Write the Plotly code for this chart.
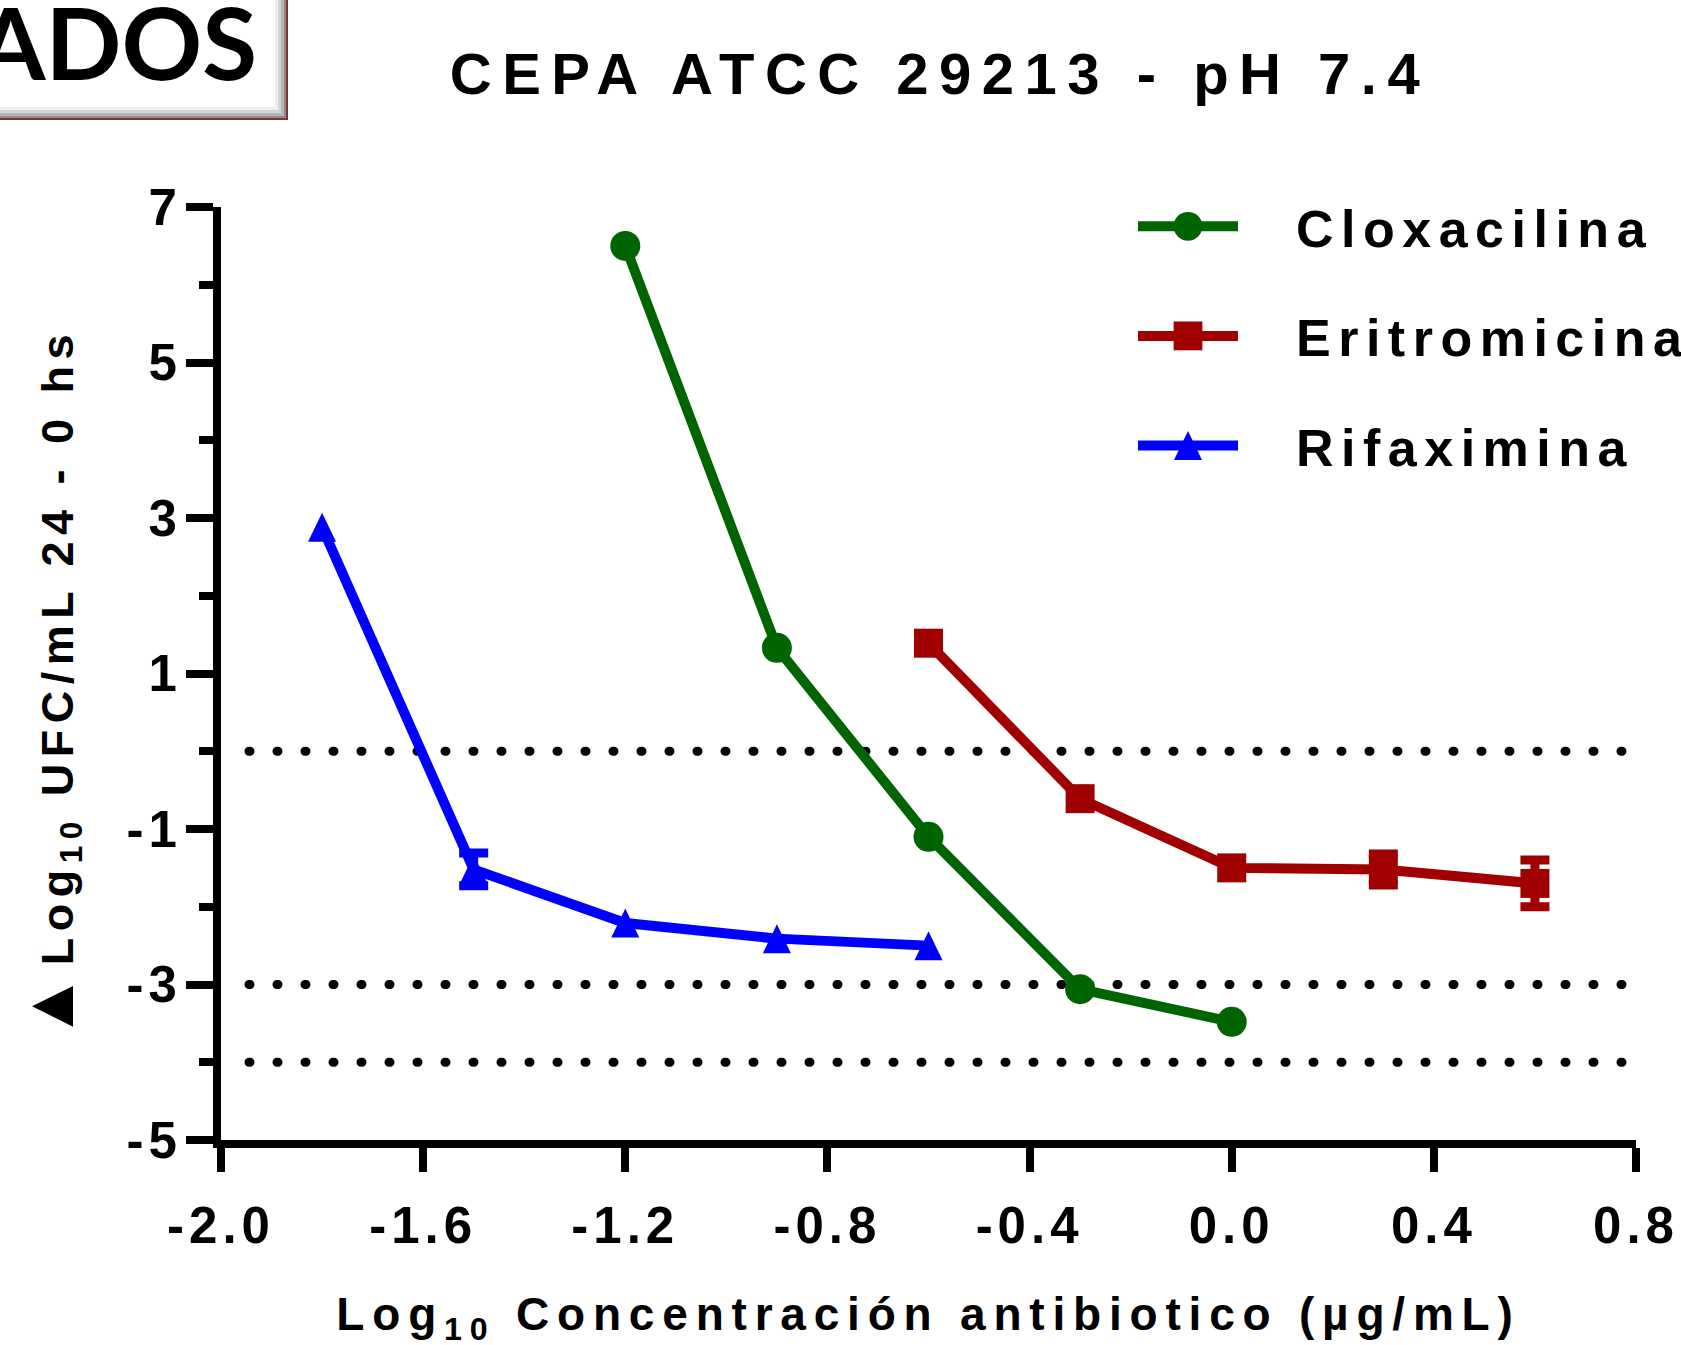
import plotly.graph_objects as go

# ---------------- data ----------------
title_text = "CEPA ATCC 29213 - pH 7.4"
header_text = "ADOS"
x_title = "Log<sub>10</sub> Concentración antibiotico (µg/mL)"
y_title = "<span style='font-size:70px'>▲</span>Log<sub>10</sub> UFC/mL 24 - 0 hs"

x_tick_vals = [-2.0, -1.6, -1.2, -0.8, -0.4, 0.0, 0.4, 0.8]
x_tick_text = ["-2.0", "-1.6", "-1.2", "-0.8", "-0.4", "0.0", "0.4", "0.8"]
y_tick_vals = [7, 5, 3, 1, -1, -3, -5]
y_tick_text = ["7", "5", "3", "1", "-1", "-3", "-5"]

ref_levels = [0, -3, -4]

series_names = ["Cloxacilina", "Eritromicina", "Rifaximina"]

clox_x = [-1.2, -0.9, -0.6, -0.3, 0.0]
clox_y = [6.50, 1.33, -1.10, -3.06, -3.48]
clox_err = [None, None, None, None, None]

eri_x = [-0.6, -0.3, 0.0, 0.3, 0.6]
eri_y = [1.39, -0.61, -1.50, -1.52, -1.70]
eri_err = [None, None, None, 0.2, 0.3]

rif_x = [-1.8, -1.5, -1.2, -0.9, -0.6]
rif_y = [2.88, -1.52, -2.21, -2.41, -2.50]
rif_err = [None, 0.21, None, None, None]

# ---------------- layout geometry ----------------
W, H = 1681, 1345
ML, MR, MT, MB = 221, 45, 207, 205
PW = W - ML - MR
PH = H - MT - MB


def pxx(px):
    return (px - ML) / PW


def pxy(py):
    return (H - MB - py) / PH


FONT = "Liberation Sans, Arial, sans-serif"
colors = ["#006400", "#a00000", "#0000ff"]
symbols = ["circle", "square", "triangle-up"]
msizes = [30, 29, 26]

fig = go.Figure()

series = [(clox_x, clox_y, clox_err), (eri_x, eri_y, eri_err), (rif_x, rif_y, rif_err)]
for i, (xs, ys, es) in enumerate(series):
    fig.add_trace(go.Scatter(
        x=xs, y=ys, name=series_names[i], mode="lines+markers",
        legendgroup="g%d" % i,
        line=dict(color=colors[i], width=10),
        marker=dict(symbol=symbols[i], size=msizes[i], color=colors[i]),
        cliponaxis=False,
    ))
    idx = [k for k, e in enumerate(es) if e]
    if idx:
        fig.add_trace(go.Scatter(
            x=[xs[k] for k in idx], y=[ys[k] for k in idx], mode="markers",
            showlegend=False, legendgroup="g%d" % i, hoverinfo="skip",
            marker=dict(size=1, color="rgba(0,0,0,0)"),
            error_y=dict(type="data", array=[es[k] for k in idx], visible=True,
                         color=colors[i], thickness=9, width=14.5),
            cliponaxis=False,
        ))

shapes = []
# dotted reference lines
for lv in ref_levels:
    shapes.append(dict(type="line", xref="paper", yref="y", x0=pxx(249), x1=1.0,
                       y0=lv, y1=lv, layer="below",
                       line=dict(color="black", width=9, dash="1px,27px")))

# "ADOS" header box with bevel shadow
box_layers = [(288, 120, "#7a3434"), (286, 118, "#8c8c8c"), (284, 116, "#b4b4b4"),
              (281, 113, "#d6d6d6"), (278, 110, "#eeeeee"), (275, 107, "#ffffff")]
for rx, by, col in box_layers:
    shapes.append(dict(type="rect", xref="paper", yref="paper",
                       x0=pxx(-20), x1=pxx(rx), y0=pxy(by), y1=pxy(-20),
                       fillcolor=col, line=dict(width=0), layer="below"))

fig.update_layout(
    template="none",
    width=W, height=H,
    margin=dict(l=ML, r=MR, t=MT, b=MB, pad=0, autoexpand=False),
    paper_bgcolor="white", plot_bgcolor="white",
    font=dict(family=FONT, color="black", weight="bold"),
    title=dict(text=title_text, x=940 / W, xref="container", xanchor="center",
               y=1 - 74 / H, yref="container", yanchor="middle",
               font=dict(size=58, family=FONT, color="black", weight="bold")),
    xaxis=dict(range=[-2.0, 0.8], tickmode="array", tickvals=x_tick_vals, ticktext=x_tick_text,
               automargin=False,
               showgrid=False, zeroline=False, showline=True, linewidth=8, linecolor="black",
               ticks="outside", ticklen=24, tickwidth=8, tickcolor="black",
               ticklabelstandoff=10,
               tickfont=dict(size=51, family=FONT, weight="bold", color="black"),
               title=dict(text=x_title, standoff=58,
                          font=dict(size=46, family=FONT, weight="bold", color="black"))),
    yaxis=dict(range=[-5, 7], tickmode="array", tickvals=y_tick_vals, ticktext=y_tick_text,
               automargin=False,
               showgrid=False, zeroline=False, showline=True, linewidth=8, linecolor="black",
               ticks="outside", ticklen=27, tickwidth=8, tickcolor="black",
               ticklabelstandoff=-6,
               minor=dict(tickmode="linear", tick0=-5, dtick=1, ticks="outside",
                          ticklen=14, tickwidth=8, tickcolor="black"),
               tickfont=dict(size=51, family=FONT, weight="bold", color="black"),
               title=dict(text=y_title, standoff=56,
                          font=dict(size=45, family=FONT, weight="bold", color="black"))),
    legend=dict(x=pxx(1133), y=pxy(186), xanchor="left", yanchor="top",
                itemwidth=100, tracegroupgap=39, bgcolor="rgba(0,0,0,0)", borderwidth=0,
                font=dict(size=52, family=FONT, weight="bold", color="black")),
    shapes=shapes,
    annotations=[dict(text=header_text, xref="paper", yref="paper",
                      x=pxx(259), y=pxy(41), xanchor="right", yanchor="middle",
                      showarrow=False,
                      font=dict(size=100, family="Lato, Carlito, sans-serif",
                                weight="bold", color="black"))],
    showlegend=True,
)

post = r"""
var gd = document.getElementById('{plot_id}');
var css = '.gtitle { letter-spacing: 10.5px; }' +
  '.legendtext { letter-spacing: 7.5px; translate: 53px 0px; }' +
  '.xtitle { letter-spacing: 7.8px; translate: 0px 2px; }' +
  '.ytitle { letter-spacing: 6.5px; translate: 4px 11px; }' +
  '.xtick text, .ytick text { letter-spacing: 5px; }' +
  '.shapelayer path { stroke-linecap: round; }' +
  '.legend path.scatterpts { transform: translate(55px, 0px) scale(1.8) !important; }' +
  '.legend path.scatterpts[d*="L0,-"] { transform: translate(55px, 4.8px) scale(1.52, 2.42) !important; }';
var st = document.createElement('style');
st.textContent = css;
document.head.appendChild(st);
function fixAll() {
  document.querySelectorAll('.legend .scrollbox, .legend').forEach(function(e) {
    e.removeAttribute('clip-path');
  });
  document.querySelectorAll('.scatterlayer path.point').forEach(function(p) {
    var d = p.getAttribute('d') || '';
    if (d.indexOf('L0,-') < 0) return;
    var t = p.getAttribute('transform') || '';
    if (t.indexOf('scale') >= 0) return;
    var m = t.match(/translate\(\s*([-0-9.e]+)[\s,]+([-0-9.e]+)\s*\)/);
    if (!m) return;
    var x = parseFloat(m[1]), y = parseFloat(m[2]) + 4.83;
    p.setAttribute('transform', 'translate(' + x + ',' + y + ') scale(0.933,1.487)');
  });
}
fixAll();
if (gd && gd.on) { gd.on('plotly_afterplot', fixAll); }
"""

fig.write_html("out.html", post_script=post)
